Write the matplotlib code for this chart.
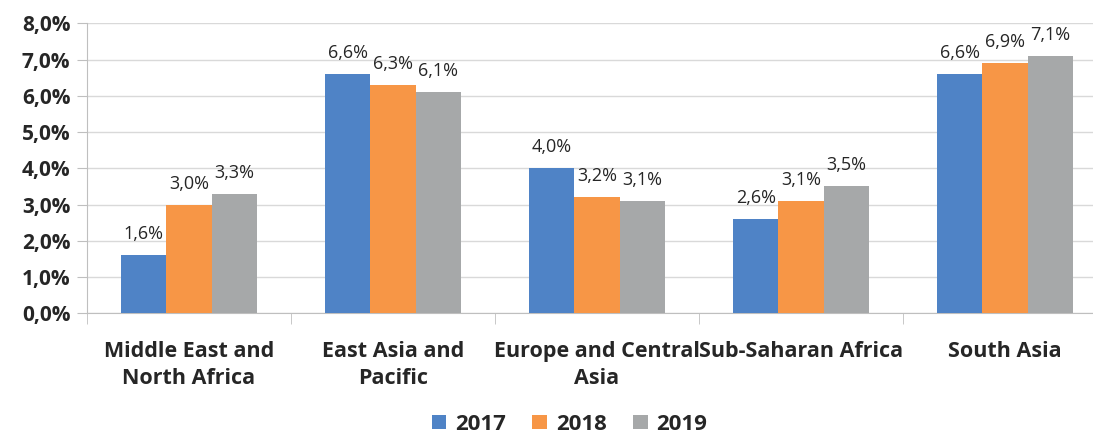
import numpy as np
import matplotlib.pyplot as plt

# data
regions = ["Middle East and\nNorth Africa", "East Asia and\nPacific",
           "Europe and Central\nAsia", "Sub-Saharan Africa", "South Asia"]
years = ["2017", "2018", "2019"]
v2017 = [1.6, 6.6, 4.0, 2.6, 6.6]
v2018 = [3.0, 6.3, 3.2, 3.1, 6.9]
v2019 = [3.3, 6.1, 3.1, 3.5, 7.1]
colors = ["#4F83C6", "#F79646", "#A6A8A9"]

plt.rcParams['font.family'] = ['Open Sans', 'DejaVu Sans']
txt = '#262626'

fig = plt.figure(figsize=(10.93, 4.42), dpi=100)
# the plot area runs a little past the right edge of the picture
ax = fig.add_axes([0.0796, 0.2912, 0.9332, 0.6561])

x = np.arange(len(regions))
w = 0.222
for i, (vals, yr) in enumerate(zip([v2017, v2018, v2019], years)):
    bars = ax.bar(x + (i - 1) * w, vals, width=w, color=colors[i], label=yr, zorder=3)
    for b, v in zip(bars, vals):
        ax.text(b.get_x() + b.get_width() / 2, v + 0.33,
                ("%.1f%%" % v).replace('.', ','), ha='center', va='bottom',
                fontsize=13, color=txt)

ax.set_xlim(-0.5, len(regions) - 0.5)
ax.set_ylim(0, 8)
ax.set_yticks(np.arange(0, 9, 1))
ax.set_yticklabels([("%.1f%%" % t).replace('.', ',') for t in range(9)],
                   fontsize=15, fontweight='bold', color=txt)
ax.yaxis.grid(True, color='#D9D9D9', linewidth=1, zorder=0)
ax.tick_params(axis='y', length=7, color='#BFBFBF', pad=5)

ax.set_xticks(x)
ax.set_xticklabels(regions, fontsize=15.5, fontweight='bold', color=txt,
                   linespacing=1.35)
ax.set_xticks(np.arange(-0.5, len(regions), 1), minor=True)
ax.tick_params(axis='x', which='major', length=0, pad=20)
ax.tick_params(axis='x', which='minor', length=8, color='#BFBFBF')

for s in ['top', 'right']:
    ax.spines[s].set_visible(False)
for s in ['left', 'bottom']:
    ax.spines[s].set_color('#BFBFBF')

leg = fig.legend(loc='center', bbox_to_anchor=(0.521, 0.04), ncol=3,
                 frameon=False, prop={'size': 16, 'weight': 'bold'},
                 handlelength=0.65, handleheight=0.65, handletextpad=0.4,
                 columnspacing=1.2, borderpad=0.2)
for t in leg.get_texts():
    t.set_color(txt)

fig.savefig('out.png', dpi=100)
